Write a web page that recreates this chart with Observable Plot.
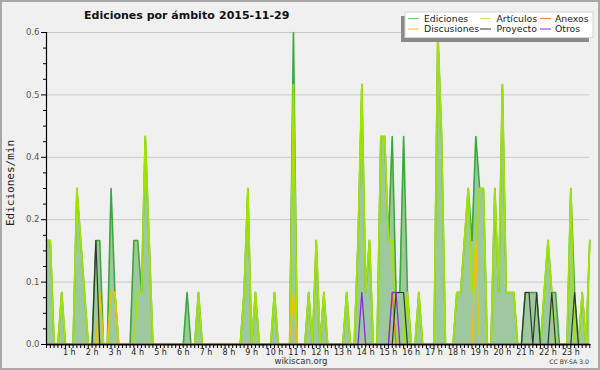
<!DOCTYPE html>
<html><head><meta charset="utf-8">
<script src="https://cdn.jsdelivr.net/npm/d3@7"></script>
<script src="https://cdn.jsdelivr.net/npm/@observablehq/plot@0.6"></script>
<style>body{margin:0;background:#f0f0f0}</style>
</head><body><div id="chart"></div>
<script>
// 10-minute buckets, 144 per day (index 0 = 00:00)
const ediciones = [
  0.2,0.2,0,0,0.1,0,0,0,0.3,0.2,0.1,0,
  0,0.2,0.2,0,0,0.3,0.1,0,0,0,0,0.2,
  0.2,0.1,0.4,0.2,0,0,0,0,0,0,0,0,
  0,0.1,0,0,0.1,0,0,0,0,0,0,0,
  0,0,0,0,0.1,0.3,0,0.1,0,0,0,0,
  0.1,0,0,0,0,0.6,0,0,0,0.1,0,0.2,
  0,0.1,0,0,0,0,0,0.1,0,0,0.2,0.5,
  0.1,0.2,0,0,0.4,0.4,0.2,0.4,0.1,0.1,0.4,0.1,
  0,0,0.1,0,0,0,0,0.6,0.4,0,0,0,
  0.1,0.1,0.2,0.3,0.2,0.4,0.3,0.3,0,0,0.3,0.1,
  0.5,0.1,0.1,0.1,0,0,0.1,0.1,0.1,0.1,0,0.1,
  0.2,0.1,0.1,0,0,0,0.3,0.1,0,0.1,0,0.2
];
const articulos = [
  0.2,0.2,0,0,0.1,0,0,0,0.3,0.2,0.1,0,
  0,0,0.1,0,0,0.1,0.1,0,0,0,0,0,
  0.1,0.1,0.4,0.2,0,0,0,0,0,0,0,0,
  0,0,0,0,0.1,0,0,0,0,0,0,0,
  0,0,0,0,0.1,0.3,0,0.1,0,0,0,0,
  0.1,0,0,0,0,0.5,0,0,0,0.1,0,0.2,
  0,0.1,0,0,0,0,0,0.1,0,0,0.2,0.5,
  0.1,0.2,0,0,0.4,0.4,0.2,0.2,0,0,0,0.1,
  0,0,0.1,0,0,0,0,0.6,0.4,0,0,0,
  0.1,0.1,0.2,0.3,0.1,0.2,0.3,0.3,0,0,0.3,0.1,
  0.5,0.1,0.1,0.1,0,0,0,0,0,0,0,0.1,
  0.2,0.1,0,0,0,0,0.3,0,0,0.1,0,0.2
];
// sparse series: [bucket, value]; every other bucket is 0
const discusiones = [[14,0.1],[17,0.1],[18,0.1],[65,0.1],[113,0.2]];
const anexos = [[91,0.1]];
const proyecto = [[13,0.2],[92,0.1],[93,0.1],[94,0.1],[126,0.1],[127,0.1],[129,0.1],[133,0.1],[139,0.1]];
const otros = [[83,0.1],[91,0.1],[92,0.1]];

const horas = ["1 h","2 h","3 h","4 h","5 h","6 h","7 h","8 h","9 h","10 h","11 h","12 h",
  "13 h","14 h","15 h","16 h","17 h","18 h","19 h","20 h","21 h","22 h","23 h"];
const yTicks = [0, 0.12, 0.24, 0.36, 0.48, 0.6];

const legendNames = ["Ediciones","Artículos","Anexos","Discusiones","Proyecto","Otros"];
const legendColors = ["#7fce7f","#c8ec6a","#f5824e","#f7c93c","#555555","#9b4fe6"];

const N = ediciones.length;
function expand(pairs){ const a = new Array(N).fill(0); for (const [i,v] of pairs) a[i] = v; return a; }
const disc = expand(discusiones), anx = expand(anexos), proy = expand(proyecto), otr = expand(otros);
const rows = d3.range(N).map(i => ({i, total: ediciones[i], art: articulos[i], disc: disc[i], anx: anx[i], proy: proy[i], otr: otr[i]}));

const yMinor = d3.range(0, 21).map(k => k * 0.03).filter(v => !yTicks.some(t => Math.abs(t - v) < 1e-9));
const hourTicks = horas.map((h, k) => (k + 1) * 6);

const chart = Plot.plot({
  width: 600, height: 370,
  marginLeft: 46, marginRight: 10.7, marginTop: 32, marginBottom: 26,
  style: {background: "#f0f0f0", fontFamily: "DejaVu Sans", fontSize: "8px", color: "#222", overflow: "visible"},
  x: {domain: [0, N - 1], axis: null},
  y: {domain: [0, 0.6], axis: null},
  marks: [
    Plot.ruleY(yTicks.slice(1), {stroke: "#c9c9c9"}),
    Plot.areaY(rows, {x: "i", y: "total", fill: "#9ec99e"}),
    Plot.lineY(rows, {x: "i", y: "total", stroke: "#3aa83a", strokeWidth: 1.6}),
    Plot.lineY(rows, {x: "i", y: "art", stroke: "#a2e400", strokeWidth: 1.8}),
    Plot.lineY(rows, {x: "i", y: "disc", stroke: "#f2c200", strokeWidth: 1.4}),
    Plot.lineY(rows, {x: "i", y: "anx", stroke: "#f06a2a", strokeWidth: 1.2}),
    Plot.lineY(rows, {x: "i", y: "proy", stroke: "#2e3a2e", strokeWidth: 1.2}),
    Plot.lineY(rows, {x: "i", y: "otr", stroke: "#8a2be2", strokeWidth: 1.3}),
    Plot.axisY({ticks: yTicks, tickFormat: d3.format(".1f"), tickSize: 5, tickPadding: 2, stroke: "#000", fill: "#555", fontSize: 8.5, label: null}),
    Plot.axisY({ticks: yMinor, tickSize: 3, tickFormat: () => "", stroke: "#000", label: null}),
    Plot.axisX({ticks: d3.range(0, N), tickSize: 4, tickFormat: () => "", stroke: "#000", label: null}),
    Plot.axisX({ticks: hourTicks, tickSize: 0, tickPadding: 5, tickFormat: d => horas[d / 6 - 1], fill: "#222", fontSize: 8, label: null}),
    Plot.ruleX([0], {stroke: "#000", strokeWidth: 1.2}),
    Plot.ruleY([0], {stroke: "#000", strokeWidth: 1.6})
  ]
});
document.getElementById("chart").appendChild(chart);

const svg = d3.select(chart);
svg.append("rect").attr("x", 1).attr("y", 1).attr("width", 598).attr("height", 368)
  .attr("fill", "none").attr("stroke", "#a8a8a8").attr("stroke-width", 2);
svg.append("text").attr("x", 84).attr("y", 19).attr("text-anchor", "start").attr("font-family", "DejaVu Sans")
  .attr("font-weight", "bold").attr("font-size", 11).attr("fill", "#111").text("Ediciones por ámbito");
svg.append("text").attr("x", 219).attr("y", 19).attr("text-anchor", "start").attr("font-family", "DejaVu Sans")
  .attr("font-weight", "bold").attr("font-size", 11).attr("fill", "#111").text("2015-11-29");
svg.append("text").attr("transform", "translate(14,183) rotate(-90)").attr("text-anchor", "middle")
  .attr("font-family", "DejaVu Sans Mono").attr("font-size", 11).attr("fill", "#222").text("Ediciones/min");
svg.append("text").attr("x", 301).attr("y", 364).attr("text-anchor", "middle").attr("font-family", "DejaVu Sans")
  .attr("font-size", 8.5).attr("fill", "#333").text("wikiscan.org");
svg.append("text").attr("x", 589).attr("y", 364).attr("text-anchor", "end").attr("font-family", "DejaVu Sans")
  .attr("font-size", 6.2).attr("fill", "#333").text("CC BY-SA 3.0");

// legend
const lg = svg.append("g");
lg.append("rect").attr("x", 401).attr("y", 16).attr("width", 188).attr("height", 26).attr("fill", "#8a8a8a");
lg.append("rect").attr("x", 405).attr("y", 12).attr("width", 188).attr("height", 25.5).attr("fill", "#fff").attr("stroke", "#d4d4d4");
const colX = [408, 480, 540];
const rowY = [18.5, 29];
legendNames.forEach((name, k) => {
  const c = k % 3, r = Math.floor(k / 3);
  lg.append("line").attr("x1", colX[c]).attr("x2", colX[c] + 11).attr("y1", rowY[r]).attr("y2", rowY[r])
    .attr("stroke", legendColors[k]).attr("stroke-width", 1.2);
  lg.append("text").attr("x", colX[c] + (c === 0 ? 16 : c === 1 ? 16.5 : 15)).attr("y", rowY[r] + 3.3)
    .attr("text-anchor", "start").attr("font-family", "DejaVu Sans").attr("font-size", 9.3).attr("fill", "#222").text(name);
});
</script>
</body></html>
